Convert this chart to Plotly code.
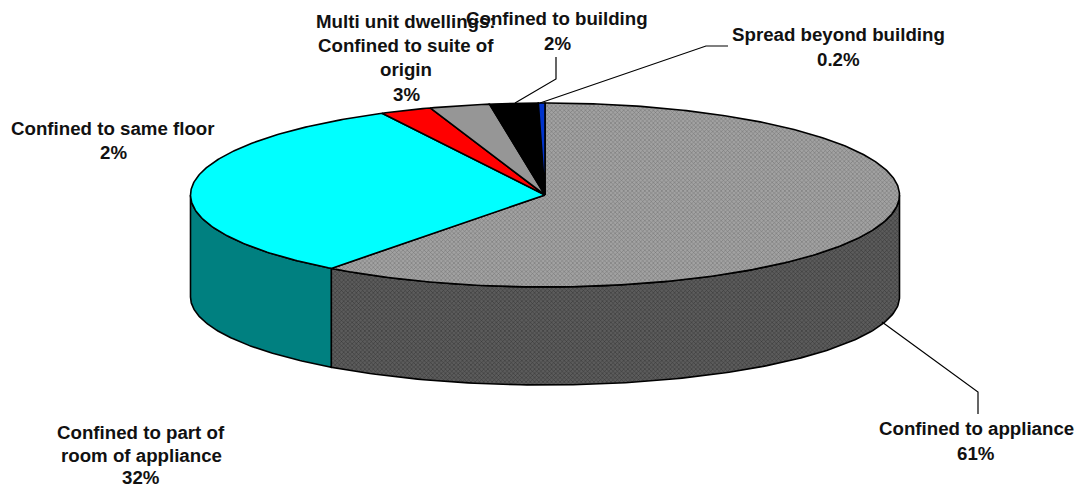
import numpy as np
import plotly.graph_objects as go

categories = ["Confined to appliance", "Confined to part of room of appliance",
              "Confined to same floor", "Multi unit dwellings: Confined to suite of origin",
              "Confined to building", "Spread beyond building"]
values = [60.3, 32.1, 2.35, 2.75, 2.2, 0.3]
top_colors = ["#999999", "#00FFFF", "#FF0000", "#969696", "#000000", "#0033CC"]
wall_colors = ["#555555", "#008080", "#800000", "#4B4B4B", "#000000", "#001A66"]

CX, RX = 545, 354.5
TOP_CY, TOP_RY = 195, 92
BOT_CY, BOT_RY = 297, 88
LINE = dict(color="black", width=1.6)


def top(t):
    return CX + RX * np.sin(t), TOP_CY - TOP_RY * np.cos(t)


def bottom(t):
    return CX + RX * np.sin(t), BOT_CY - BOT_RY * np.cos(t)


fig = go.Figure()
edges = 2 * np.pi * np.concatenate([[0], np.cumsum(values)]) / sum(values)

# side walls (visible between pi/2 and 3pi/2)
for i in range(len(values)):
    a, b = max(edges[i], np.pi / 2), min(edges[i + 1], 3 * np.pi / 2)
    if b <= a:
        continue
    t = np.linspace(a, b, 120)
    xt, yt = top(t)
    xb, yb = bottom(t[::-1])
    kw = {}
    if i == 0:
        kw["fillpattern"] = dict(shape="x", size=3, solidity=0.3, fgcolor="#333333", bgcolor="#5C5C5C", fillmode="replace")
    fig.add_trace(go.Scatter(x=np.r_[xt, xb, xt[0]], y=np.r_[yt, yb, yt[0]], mode="lines", fill="toself",
                             fillcolor=wall_colors[i], line=LINE, hoverinfo="skip", showlegend=False, **kw))

# top faces
for i in range(len(values)):
    t = np.linspace(edges[i], edges[i + 1], max(int(600 * values[i] / 100), 4))
    xs, ys = top(t)
    kw = {}
    if i == 0:
        kw["fillpattern"] = dict(shape="x", size=3, solidity=0.3, fgcolor="#707070", bgcolor="#A2A2A2", fillmode="replace")
    fig.add_trace(go.Scatter(x=np.r_[CX, xs, CX], y=np.r_[TOP_CY, ys, TOP_CY], mode="lines", fill="toself",
                             fillcolor=top_colors[i], line=LINE, hoverinfo="skip", showlegend=False, name=categories[i], **kw))

# leader lines
leaders = [([882, 978, 978], [322, 392, 414]),
           ([515, 556, 556], [103, 79, 57]),
           ([540, 706, 728], [103, 46, 46])]
for lx, ly in leaders:
    fig.add_trace(go.Scatter(x=lx, y=ly, mode="lines", line=dict(color="black", width=1.2),
                             hoverinfo="skip", showlegend=False))

# labels: (centre x, centre y, text) per line
label_lines = [
    (976, 428, "Confined to appliance"), (976, 453, "61%"),
    (141, 432, "Confined to part of"), (141, 455, "room of appliance"), (141, 477, "32%"),
    (113, 128, "Confined to same floor"), (113, 152, "2%"),
    (406, 21, "Multi unit dwellings:"), (406, 45, "Confined to suite of"), (406, 69, "origin"), (406, 94, "3%"),
    (557, 18, "Confined to building"), (557, 43, "2%"),
    (838, 34, "Spread beyond building"), (838, 59, "0.2%"),
]
for x, y, s in label_lines:
    fig.add_annotation(x=x, y=y, text=f"<b>{s}</b>", showarrow=False, xanchor="center", yanchor="middle",
                       borderpad=0, font=dict(family="Liberation Sans", size=18.7, color="#111111"))

fig.update_layout(width=1076, height=488, margin=dict(l=0, r=0, t=0, b=0),
                  paper_bgcolor="white", plot_bgcolor="white", showlegend=False,
                  xaxis=dict(range=[0, 1076], visible=False, fixedrange=True),
                  yaxis=dict(range=[488, 0], visible=False, fixedrange=True))
fig.write_html("out.html", config={"displayModeBar": False},
               post_script="document.body.style.margin='0';document.body.style.overflow='hidden';")
